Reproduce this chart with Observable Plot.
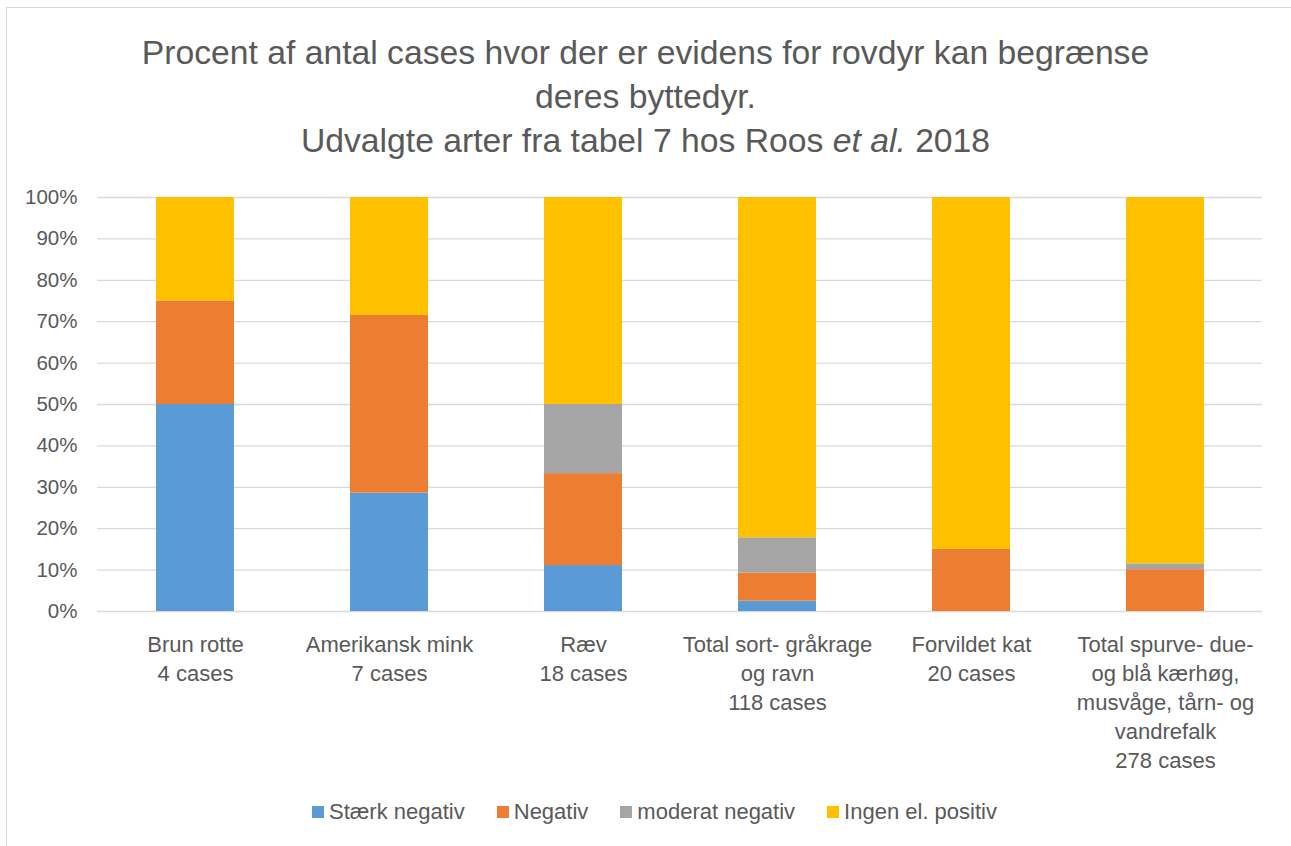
<!DOCTYPE html>
<html>
<head>
<meta charset="utf-8">
<script src="https://cdn.jsdelivr.net/npm/d3@7"></script>
<script src="https://cdn.jsdelivr.net/npm/@observablehq/plot@0.6"></script>
<style>
  html, body { margin: 0; padding: 0; background: #fff; }
  body { width: 1291px; height: 846px; overflow: hidden; position: relative; font-family: "Liberation Sans", Arial, sans-serif; color: #595959; }
  #frame { position: absolute; left: 6px; top: 7px; width: 1400px; height: 1000px; border: 1.5px solid #d9d9d9; box-sizing: border-box; pointer-events: none; }
  #title { padding-top: 30px; height: 132px; line-height: 44px; font-size: 33.7px; text-align: center; color: #595959; }
  #chart svg { display: block; }
  #legend { height: 40px; display: flex; justify-content: center; align-items: center; font-size: 22px; padding-left: 18px; }
  .item { display: flex; align-items: center; margin: 0 16px; }
  .sw { width: 12px; height: 12px; margin-right: 5px; }
</style>
</head>
<body>
<div id="frame"></div>
<div id="title">Procent af antal cases hvor der er evidens for rovdyr kan begrænse<br>deres byttedyr.<br>Udvalgte arter fra tabel 7 hos Roos <i>et al.</i> 2018</div>
<div id="chart"></div>
<div id="legend"></div>
<script>
const categories = [
  "Brun rotte\n4 cases",
  "Amerikansk mink\n7 cases",
  "Ræv\n18 cases",
  "Total sort- gråkrage\nog ravn\n118 cases",
  "Forvildet kat\n20 cases",
  "Total spurve- due-\nog blå kærhøg,\nmusvåge, tårn- og\nvandrefalk\n278 cases"
];
const seriesNames = ["Stærk negativ", "Negativ", "moderat negativ", "Ingen el. positiv"];
const seriesColors = ["#5B9BD5", "#ED7D31", "#A5A5A5", "#FFC000"];
const staerkNegativ = [50, 28.6, 11.1, 2.5, 0, 0];
const negativ = [25, 42.9, 22.2, 6.8, 15, 10.1];
const moderatNegativ = [0, 0, 16.7, 8.5, 0, 1.4];
const ingenPositiv = [25, 28.5, 50, 82.2, 85, 88.5];
const yTicks = [0, 10, 20, 30, 40, 50, 60, 70, 80, 90, 100];

const seriesValues = [staerkNegativ, negativ, moderatNegativ, ingenPositiv];
const data = [];
seriesNames.forEach((s, si) => {
  categories.forEach((c, ci) => {
    data.push({category: c, series: s, value: seriesValues[si][ci]});
  });
});

const chart = Plot.plot({
  width: 1291,
  height: 630,
  marginLeft: 97,
  marginRight: 29,
  marginTop: 35,
  marginBottom: 181,
  style: {fontFamily: '"Liberation Sans", Arial, sans-serif', color: "#595959", background: "transparent"},
  x: {domain: categories, paddingInner: 0.6, paddingOuter: 0.3, label: null},
  y: {domain: [0, 100], label: null},
  color: {domain: seriesNames, range: seriesColors},
  marks: [
    Plot.gridY(yTicks, {stroke: "#d9d9d9", strokeOpacity: 1, strokeWidth: 1.3}),
    Plot.barY(data, Plot.stackY({x: "category", y: "value", fill: "series", order: seriesNames})),
    Plot.axisY(yTicks, {tickSize: 0, tickPadding: 20, fontSize: 20.5, tickFormat: d => d + "%", label: null, fill: "#595959"}),
    Plot.axisX({tickSize: 0, tickPadding: 20, fontSize: 22, lineHeight: 1.32, label: null, fill: "#595959"})
  ]
});
document.getElementById("chart").appendChild(chart);

const legend = document.getElementById("legend");
seriesNames.forEach((s, i) => {
  const item = document.createElement("div");
  item.className = "item";
  const sw = document.createElement("div");
  sw.className = "sw";
  sw.style.background = seriesColors[i];
  const t = document.createElement("span");
  t.textContent = s;
  item.appendChild(sw);
  item.appendChild(t);
  legend.appendChild(item);
});
</script>
</body>
</html>
